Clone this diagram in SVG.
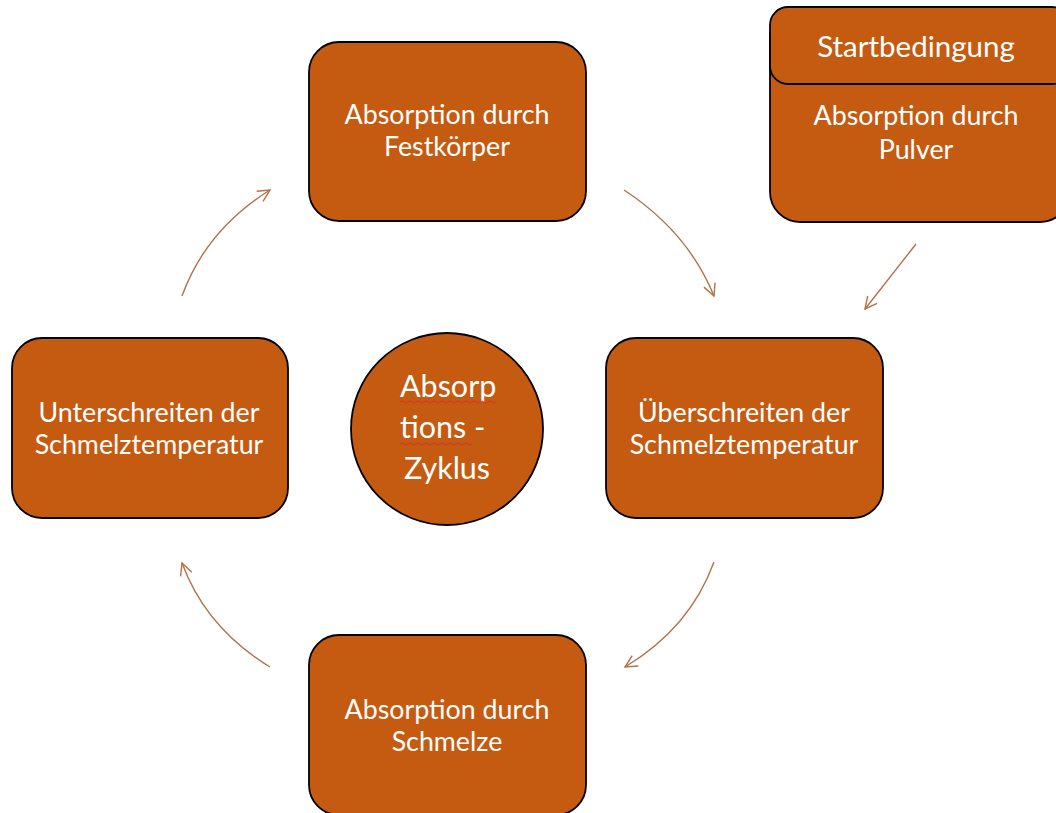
<svg xmlns="http://www.w3.org/2000/svg" width="1056" height="813" viewBox="0 0 1056 813">
<style>
.box{fill:#C55A11;stroke:#000;stroke-width:1.8}
.t{font-family:Lato,"Open Sans",sans-serif;font-size:26.8px;fill:#fff;text-anchor:middle}
.big{font-size:29.5px}
.circ{font-size:30.5px;text-anchor:start}
.arr{fill:none;stroke:#B0734A;stroke-width:1.4}
.sq{fill:none;stroke:#E03030;stroke-width:1}
</style>
<defs>
<marker id="ah" markerUnits="userSpaceOnUse" markerWidth="16" markerHeight="16" refX="13" refY="7" orient="auto">
<path d="M1,1 L13,7 L1,13" fill="none" stroke="#B0734A" stroke-width="1.4"/>
</marker>
</defs>
<g id="connectors">
<path class="arr" d="M624,190 Q688,232 714,296" marker-end="url(#ah)"/>
<path class="arr" d="M916,244 L865,309" marker-end="url(#ah)"/>
<path class="arr" d="M714,562 Q690,628 625,667" marker-end="url(#ah)"/>
<path class="arr" d="M270,667 Q206,628 182,563" marker-end="url(#ah)"/>
<path class="arr" d="M182,296 Q206,230 270,190" marker-end="url(#ah)"/>
</g>
<g id="festkoerper">
<rect class="box" x="309" y="42" width="277" height="179" rx="30"/>
<text class="t" x="447" y="124">Absorption durch</text>
<text class="t" x="447" y="156">Festkörper</text>
</g>
<g id="startbedingung">
<rect class="box" x="770" y="7" width="300" height="215" rx="30"/>
<rect class="box" x="770" y="7" width="300" height="77" rx="18"/>
<text class="t big" x="916" y="57">Startbedingung</text>
<text class="t" x="916" y="125">Absorption durch</text>
<text class="t" x="916" y="159">Pulver</text>
</g>
<g id="unterschreiten">
<rect class="box" x="12" y="338" width="276" height="180" rx="30"/>
<text class="t" x="149" y="422">Unterschreiten der</text>
<text class="t" x="149" y="454">Schmelztemperatur</text>
</g>
<g id="ueberschreiten">
<rect class="box" x="606" y="338" width="277" height="180" rx="30"/>
<text class="t" x="744" y="422">Überschreiten der</text>
<text class="t" x="744" y="454">Schmelztemperatur</text>
</g>
<g id="schmelze">
<rect class="box" x="309" y="635" width="277" height="180" rx="30"/>
<text class="t" x="447" y="719">Absorption durch</text>
<text class="t" x="447" y="751">Schmelze</text>
</g>
<g id="zyklus">
<circle class="box" cx="447" cy="429" r="96"/>
<text class="t circ" x="400" y="397">Absorp</text>
<text class="t circ" x="400" y="438">tions -</text>
<text class="t circ" x="404" y="479">Zyklus</text>
<path class="sq" d="M400,402 q2,-2 4,0 t4,0 t4,0 t4,0 t4,0 t4,0 t4,0 t4,0 t4,0 t4,0 t4,0 t4,0 t4,0 t4,0 t4,0 t4,0 t4,0 t4,0 t4,0 t4,0 t4,0 t4,0 t4,0 t4,0"/>
<path class="sq" d="M400,444 q2,-2 4,0 t4,0 t4,0 t4,0 t4,0 t4,0 t4,0 t4,0 t4,0 t4,0 t4,0 t4,0 t4,0 t4,0 t4,0 t4,0 t4,0 t4,0"/>
</g>
</svg>
